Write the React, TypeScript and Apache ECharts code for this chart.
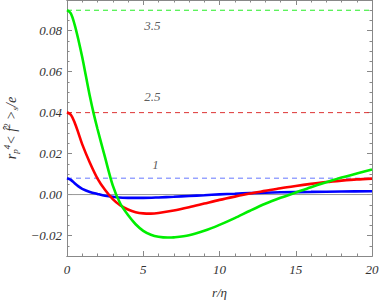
import React, { useEffect, useRef } from "react";
import * as echarts from "echarts";

const greenR = [0, 0.25, 0.5, 0.75, 1, 1.25, 1.5, 1.75, 2, 2.5, 3, 3.5, 4, 4.5, 5, 5.5, 6, 6.6, 7, 8, 9, 10, 11, 12, 13, 14, 15, 16, 17, 18, 19, 20];
const greenY = [0.09, 0.0885, 0.083, 0.0755, 0.067, 0.0575, 0.048, 0.0395, 0.032, 0.018, 0.0045, -0.0045, -0.01, -0.0145, -0.0177, -0.0196, -0.0206, -0.021, -0.0209, -0.0199, -0.0177, -0.0148, -0.0115, -0.0079, -0.0045, -0.0016, 0.001, 0.0036, 0.006, 0.0083, 0.0103, 0.0122];

const redR = [0, 0.25, 0.5, 0.75, 1, 1.5, 2, 2.5, 3, 3.5, 4, 4.5, 5, 5.5, 6, 7, 8, 9, 10, 11, 12, 13, 14, 15, 16, 17, 18, 19, 20];
const redY = [0.0402, 0.039, 0.0352, 0.03, 0.0245, 0.0155, 0.0078, 0.0022, -0.0022, -0.0053, -0.0073, -0.0086, -0.0092, -0.0093, -0.009, -0.0078, -0.0062, -0.0044, -0.0026, -0.001, 0.0005, 0.0018, 0.0031, 0.0042, 0.0052, 0.0061, 0.0068, 0.0074, 0.0078];

const blueR = [0, 0.25, 0.5, 0.75, 1, 1.5, 2, 2.5, 3, 4, 5, 6, 7, 8, 9, 10, 11, 12, 14, 16, 18, 20];
const blueY = [0.008, 0.0072, 0.0055, 0.004, 0.0028, 0.0013, 0.0003, -0.0006, -0.0011, -0.0016, -0.0016, -0.0014, -0.0011, -0.0007, -0.0003, 0.0001, 0.0004, 0.0007, 0.0011, 0.0013, 0.0015, 0.0016];

const levelValues = [0.09, 0.04, 0.008];
const levelLabels = ["3.5", "2.5", "1"];
const levelLabelX = [5.6, 5.6, 5.8];
const levelLabelY = [0.0826, 0.048, 0.0145];

const yMajorTicks = [-0.02, 0, 0.02, 0.04, 0.06, 0.08];

const curveColors = ["#00ee00", "#ff0000", "#0000ff"];
const dashColors = ["#22ee22", "#dd3333", "#6677ff"];

const FRAME = "#888888";
const TEXT = "#333333";
const SERIF = "Liberation Serif";

function zip(a: number[], b: number[]) {
  return a.map((v, i) => [v, b[i]]);
}

export default function App() {
  const ref = useRef<HTMLDivElement>(null);
  useEffect(() => {
    if (!ref.current) return;
    const chart = echarts.init(ref.current, null, { renderer: "svg" });
    const labelStyle = {
      fontFamily: SERIF,
      fontStyle: "italic" as const,
      fontSize: 13,
      color: TEXT,
    };
    const mkX = (pos: "bottom" | "top", major: boolean) => ({
      type: "value" as const,
      min: 0,
      max: 20,
      interval: major ? 5 : 1,
      position: pos,
      axisLine: { show: true, onZero: false, lineStyle: { color: FRAME, width: 1 } },
      axisTick: { show: true, inside: true, length: major ? 5 : 2.5, lineStyle: { color: FRAME } },
      axisLabel: major && pos === "bottom"
        ? { show: true, ...labelStyle, margin: 7, formatter: (v: number) => String(v) }
        : { show: false },
      splitLine: { show: false },
      name: major && pos === "bottom" ? "r/η" : "",
      nameLocation: "middle" as const,
      nameGap: 30,
      nameTextStyle: { ...labelStyle, fontSize: 13 },
    });
    const mkY = (pos: "left" | "right", major: boolean) => ({
      type: "value" as const,
      min: -0.03,
      max: 0.095,
      interval: major ? undefined : 0.005,
      position: pos,
      axisLine: { show: true, onZero: false, lineStyle: { color: FRAME, width: 1 } },
      axisTick: major
        ? { show: true, inside: true, length: 5, customValues: yMajorTicks, lineStyle: { color: FRAME } }
        : { show: true, inside: true, length: 2.5, lineStyle: { color: FRAME } },
      axisLabel: major && pos === "left"
        ? {
            show: true,
            ...labelStyle,
            margin: 5,
            customValues: yMajorTicks,
            formatter: (v: number) => (v < 0 ? "\u2212" + Math.abs(v).toFixed(2) : v.toFixed(2)),
          }
        : { show: false },
      splitLine: { show: false },
      name: major && pos === "left"
        ? "{i|r}{sub|p}{sup|4}{t|< }{i|f\u0302}{sup|2}{t| >}{sub|s}{i|/e}"
        : "",
      nameLocation: "middle" as const,
      nameGap: 34,
      nameRotate: 90,
      nameTextStyle: {
        ...labelStyle,
        rich: {
          i: { fontFamily: SERIF, fontStyle: "italic", fontSize: 14, color: TEXT },
          t: { fontFamily: SERIF, fontSize: 14, color: TEXT },
          sub: { fontFamily: SERIF, fontStyle: "italic", fontSize: 9, color: TEXT, padding: [8, 0, 0, 0] },
          sup: { fontFamily: SERIF, fontStyle: "italic", fontSize: 9, color: TEXT, padding: [0, 0, 8, 0] },
        },
      },
    });

    const curves = [zip(greenR, greenY), zip(redR, redY), zip(blueR, blueY)];

    chart.setOption({
      animation: false,
      grid: { left: 67, right: 10, top: 0, bottom: 44, containLabel: false, outerBoundsMode: "none" },
      xAxis: [mkX("bottom", true), mkX("bottom", false), mkX("top", true), mkX("top", false)],
      yAxis: [mkY("left", true), mkY("left", false), mkY("right", true), mkY("right", false)],
      series: [
        {
          type: "line",
          name: "zero",
          xAxisIndex: 0,
          yAxisIndex: 0,
          data: [[0, 0], [20, 0]],
          showSymbol: false,
          lineStyle: { color: "#999999", width: 1 },
          silent: true,
          z: 1,
        },
        ...levelValues.map((lv, i) => ({
          type: "line" as const,
          name: "level" + i,
          xAxisIndex: 0,
          yAxisIndex: 0,
          data: [[0, lv], [20, lv]],
          showSymbol: false,
          lineStyle: { color: dashColors[i], width: 1, type: [5, 4] },
          silent: true,
          z: 2,
        })),
        ...curves.map((d, i) => ({
          type: "line" as const,
          name: "curve" + i,
          xAxisIndex: 0,
          yAxisIndex: 0,
          data: d,
          smooth: 0.3,
          showSymbol: false,
          lineStyle: { color: curveColors[i], width: 2.6 },
          z: 5 - i + 3,
        })),
        {
          type: "scatter",
          name: "labels",
          xAxisIndex: 0,
          yAxisIndex: 0,
          data: levelLabels.map((l, i) => ({ value: [levelLabelX[i], levelLabelY[i]], name: l })),
          symbolSize: 0,
          label: {
            show: true,
            position: "inside",
            formatter: (p: any) => p.name,
            ...labelStyle,
          },
          silent: true,
        },
      ],
    });
    return () => chart.dispose();
  }, []);
  return (
    <div
      ref={ref}
      style={{ position: "fixed", left: 0, top: 0, width: 382, height: 300, background: "#fff" }}
    />
  );
}
